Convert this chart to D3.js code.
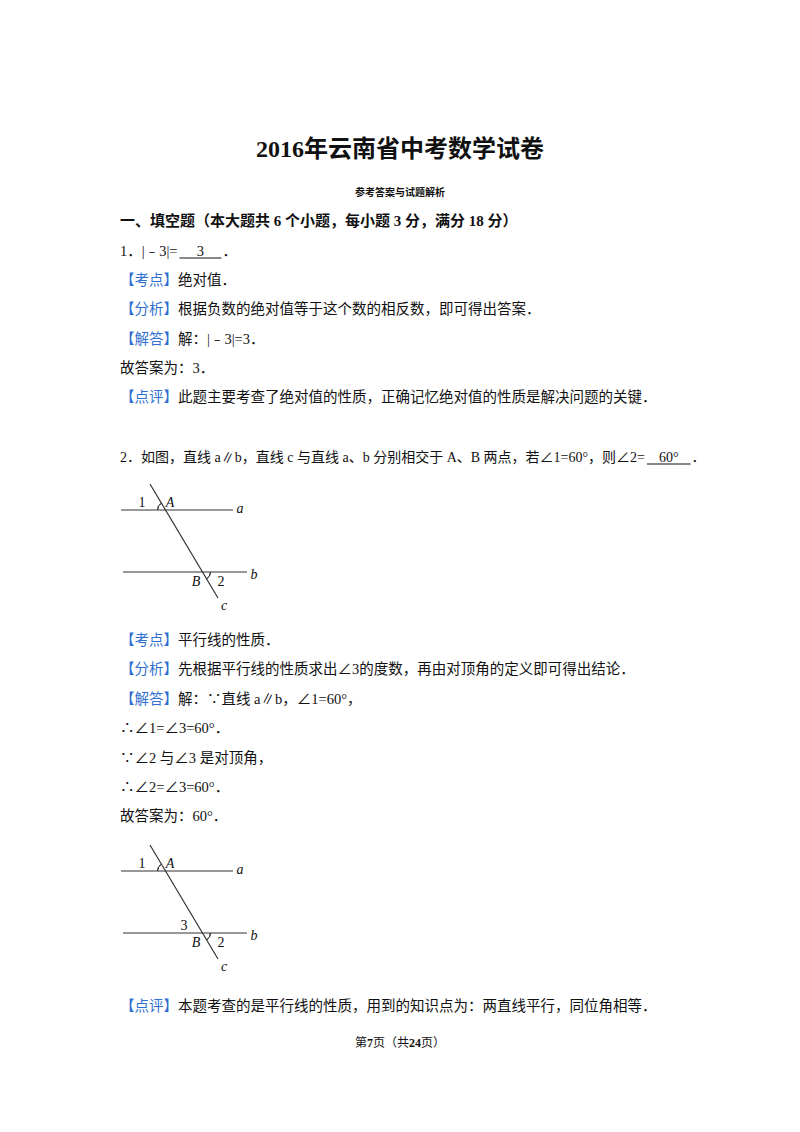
<!DOCTYPE html>
<html><head><meta charset="utf-8">
<script src="https://cdn.jsdelivr.net/npm/d3@7"></script>
<style>
body{margin:0;background:#fff}
text{font-family:"Liberation Serif","Noto Sans CJK SC",serif;fill:#111}
</style></head><body>
<svg id="page" width="800" height="1132"></svg>
<script>
// text lines: [tag, body]; tag is blue bracketed label or null
const block1 = [
  ["考点", "绝对值．"],
  ["分析", "根据负数的绝对值等于这个数的相反数，即可得出答案．"],
  ["解答", "解：|﹣3|=3．"],
  [null, "故答案为：3．"],
  ["点评", "此题主要考查了绝对值的性质，正确记忆绝对值的性质是解决问题的关键．"]
];
const block2 = [
  ["考点", "平行线的性质．"],
  ["分析", "先根据平行线的性质求出∠3的度数，再由对顶角的定义即可得出结论．"],
  ["解答", "解：∵直线 a∥b，∠1=60°，"],
  [null, "∴∠1=∠3=60°．"],
  [null, "∵∠2 与∠3 是对顶角，"],
  [null, "∴∠2=∠3=60°．"],
  [null, "故答案为：60°．"]
];
const block3 = [["点评", "本题考查的是平行线的性质，用到的知识点为：两直线平行，同位角相等．"]];
// figure geometry in figure units
const figLines = [
  {name: "a", x1: 0, y1: 26, x2: 112, y2: 26},
  {name: "b", x1: 2, y1: 88, x2: 126, y2: 88},
  {name: "c", x1: 29, y1: 0, x2: 97, y2: 114}
];
const figLabels = [
  {t: "1", x: 21, y: 23}, {t: "A", x: 49, y: 23}, {t: "a", x: 119, y: 29},
  {t: "B", x: 75, y: 102}, {t: "2", x: 100, y: 102}, {t: "b", x: 133, y: 95},
  {t: "c", x: 103, y: 126}
];

const svg = d3.select("#page");
const blue = "#2f6fd1";

svg.append("text").attr("x", 400).attr("y", 157).attr("text-anchor", "middle")
  .attr("font-size", 24).attr("font-weight", "bold").text("2016年云南省中考数学试卷");
svg.append("text").attr("x", 400).attr("y", 196).attr("text-anchor", "middle")
  .attr("font-size", 10).attr("font-weight", "bold").text("参考答案与试题解析");
svg.append("text").attr("x", 120).attr("y", 226).attr("font-size", 15)
  .attr("font-weight", "bold").text("一、填空题（本大题共 6 个小题，每小题 3 分，满分 18 分）");

function line(y, tag, body) {
  const t = svg.append("text").attr("x", 120).attr("y", y).attr("font-size", 14.5);
  if (tag) t.append("tspan").style("fill", blue).text("【" + tag + "】");
  t.append("tspan").text(body);
}
function blockAt(rows, y0, step) {
  rows.forEach((r, i) => line(y0 + i * step, r[0], r[1]));
}
// question stem with underlined answer
function stem(y, pre, ans, size) {
  const t = svg.append("text").attr("x", 120).attr("y", y).attr("font-size", size).text(pre);
  const x0 = 120 + t.node().getComputedTextLength() + 2;
  const a = svg.append("text").attr("y", y).attr("font-size", size).attr("text-anchor", "middle").text(ans);
  const w = Math.max(42, a.node().getComputedTextLength() + 24);
  a.attr("x", x0 + w / 2);
  svg.append("line").attr("x1", x0).attr("x2", x0 + w).attr("y1", y + 2).attr("y2", y + 2).attr("stroke", "#111");
  svg.append("text").attr("x", x0 + w + 1).attr("y", y).attr("font-size", size).text("．");
}
stem(256, "1．|﹣3|=", "3", 14.5);
blockAt(block1, 285, 29.3);
stem(462, "2．如图，直线 a∥b，直线 c 与直线 a、b 分别相交于 A、B 两点，若∠1=60°，则∠2=", "60°", 14);

function figure(ox, oy, withThree) {
  const g = svg.append("g").attr("transform", `translate(${ox},${oy})`);
  g.selectAll("line").data(figLines).join("line")
    .attr("x1", d => d.x1).attr("y1", d => d.y1)
    .attr("x2", d => d.x2).attr("y2", d => d.y2)
    .attr("stroke", "#333").attr("stroke-width", 1.2);
  const ang = Math.atan2(114, 68);
  const ax = 29 + 26 * 68 / 114, bx = 29 + 88 * 68 / 114;
  const arc = d3.arc().innerRadius(8).outerRadius(8);
  g.append("path").attr("transform", `translate(${ax},26)`)
    .attr("d", arc({startAngle: -Math.PI / 2, endAngle: -Math.PI / 2 + ang}))
    .attr("fill", "none").attr("stroke", "#333");
  g.append("path").attr("transform", `translate(${bx},88)`)
    .attr("d", arc({startAngle: Math.PI / 2, endAngle: Math.PI / 2 + ang}))
    .attr("fill", "none").attr("stroke", "#333");
  const labs = withThree ? figLabels.concat([{t: "3", x: 63, y: 85}]) : figLabels;
  g.selectAll("text.l").data(labs).join("text").attr("class", "l")
    .attr("x", d => d.x).attr("y", d => d.y).attr("text-anchor", "middle")
    .attr("font-size", 14).attr("font-style", d => /[a-zA-Z]/.test(d.t) ? "italic" : "normal")
    .text(d => d.t);
}
figure(121, 484, false);
blockAt(block2, 645, 29.4);
figure(121, 845, true);
blockAt(block3, 1011, 29);

const f = svg.append("text").attr("x", 400).attr("y", 1047).attr("text-anchor", "middle").attr("font-size", 12);
f.append("tspan").text("第");
f.append("tspan").attr("font-weight", "bold").text("7");
f.append("tspan").text("页（共");
f.append("tspan").attr("font-weight", "bold").text("24");
f.append("tspan").text("页）");
</script>
</body></html>
